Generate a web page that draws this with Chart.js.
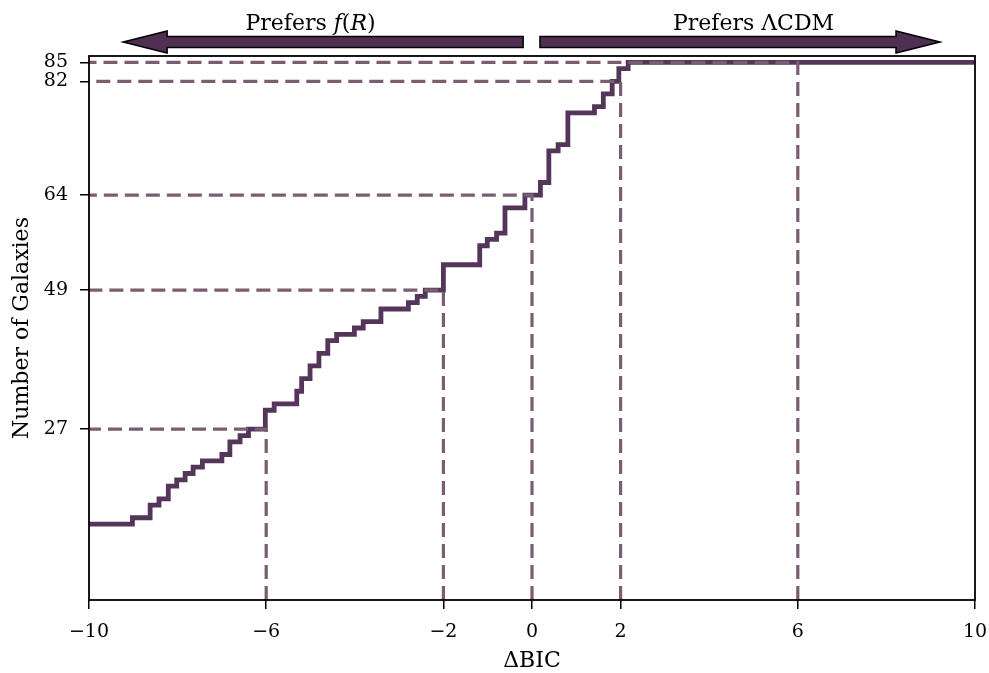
<!DOCTYPE html>
<html>
<head>
<meta charset="utf-8">
<script src="https://cdn.jsdelivr.net/npm/chart.js@4/dist/chart.umd.min.js"></script>
<style>
  html, body { margin: 0; padding: 0; background: #fff; }
  #wrap { width: 989px; height: 673px; }
</style>
</head>
<body>
<div id="wrap"><canvas id="c" width="989" height="673"></canvas></div>
<script>
// ---- data ----
const stepX = [-10, -9.02, -8.62, -8.42, -8.21, -8.02, -7.83, -7.65, -7.44, -7.00, -6.82, -6.59, -6.40,
  -6.02, -5.82, -5.31, -5.20, -5.01, -4.81, -4.61, -4.41, -4.01, -3.81, -3.41, -2.79, -2.59, -2.41,
  -2.00, -1.18, -1.01, -0.80, -0.61, -0.16, 0.19, 0.38, 0.59, 0.81, 1.41, 1.61, 1.81, 1.96, 2.17, 10];
const cumCount = [12, 13, 15, 16, 18, 19, 20, 21, 22, 23, 25, 26, 27,
  30, 31, 33, 35, 37, 39, 41, 42, 43, 44, 46, 47, 48, 49,
  53, 56, 57, 58, 62, 64, 66, 71, 72, 77, 78, 80, 82, 84, 85, 85];
const refX = [-6, -2, 0, 2, 6];
const refY = [27, 49, 64, 82, 85];
const xTicks = [-10, -6, -2, 0, 2, 6, 10];
const yTicks = [27, 49, 64, 82, 85];
const leftLabel = ['Prefers ', {i: 'f'}, '(', {i: 'R'}, ')'];
const rightLabel = ['Prefers ΛCDM'];
const leftArrow = [-0.2, -9.23];   // tail, tip
const rightArrow = [0.18, 9.21];
const labelCenters = [-5, 5];

const LINE = '#533659';
const DASH = '#7a5d70';
const ARROW = '#4f2f52';
const FONT = "'DejaVu Serif', serif";

const mainData = stepX.map((x, i) => ({x, y: cumCount[i]}));
const dashSets = refX.map((x, i) => ({
  data: [{x: x, y: 0}, {x: x, y: refY[i]}, {x: -10, y: refY[i]}],
  borderColor: DASH, borderWidth: 3.2, borderDash: [14, 7], pointRadius: 0,
  fill: false, tension: 0, order: 0
}));

function fmt(v) { return v < 0 ? '\u2212' + Math.abs(v) : String(v); }

const frame = {
  id: 'frame',
  afterDatasetsDraw(chart) {
    const {ctx, chartArea: a} = chart;
    ctx.save();
    ctx.strokeStyle = '#000';
    ctx.lineWidth = 1.8;
    ctx.strokeRect(a.left, a.top, a.right - a.left, a.bottom - a.top);
    ctx.restore();
  },
  afterDraw(chart) {
    const {ctx} = chart;
    const xs = chart.scales.x;
    const yc = chart.chartArea.top - 14;
    function arrow(tail, tip) {
      const x0 = xs.getPixelForValue(tail), x1 = xs.getPixelForValue(tip);
      const dir = Math.sign(x1 - x0);
      const hl = 44, hh = 11, sh = 5.5;
      const xb = x1 - dir * hl;
      ctx.beginPath();
      ctx.moveTo(x0, yc - sh);
      ctx.lineTo(xb, yc - sh);
      ctx.lineTo(xb, yc - hh);
      ctx.lineTo(x1, yc);
      ctx.lineTo(xb, yc + hh);
      ctx.lineTo(xb, yc + sh);
      ctx.lineTo(x0, yc + sh);
      ctx.closePath();
      ctx.fillStyle = ARROW;
      ctx.fill();
      ctx.lineWidth = 1.5;
      ctx.strokeStyle = '#000';
      ctx.stroke();
    }
    function label(parts, center) {
      const normal = "22px " + FONT, ital = "italic 22px " + FONT;
      let w = 0;
      parts.forEach(p => {
        ctx.font = typeof p === 'string' ? normal : ital;
        w += ctx.measureText(typeof p === 'string' ? p : p.i).width;
      });
      let x = xs.getPixelForValue(center) - w / 2;
      ctx.fillStyle = '#000';
      ctx.textBaseline = 'alphabetic';
      ctx.textAlign = 'left';
      parts.forEach(p => {
        const t = typeof p === 'string' ? p : p.i;
        ctx.font = typeof p === 'string' ? normal : ital;
        ctx.fillText(t, x, 30);
        x += ctx.measureText(t).width;
      });
    }
    ctx.save();
    arrow(leftArrow[0], leftArrow[1]);
    arrow(rightArrow[0], rightArrow[1]);
    label(leftLabel, labelCenters[0]);
    label(rightLabel, labelCenters[1]);
    ctx.restore();
  }
};

new Chart(document.getElementById('c'), {
  type: 'line',
  data: {
    datasets: [
      ...dashSets,
      {data: mainData, borderColor: LINE, borderWidth: 4.8, stepped: true, pointRadius: 0,
       fill: false, order: 1, borderCapStyle: 'butt', borderJoinStyle: 'miter'}
    ]
  },
  options: {
    responsive: false,
    animation: false,
    layout: {padding: {left: 0, top: 56, right: 14, bottom: 0}},
    plugins: {legend: {display: false}, tooltip: {enabled: false}},
    scales: {
      x: {
        type: 'linear', min: -10, max: 10,
        afterBuildTicks: s => { s.ticks = xTicks.map(v => ({value: v})); },
        afterFit: s => { s.height = 73; s.paddingLeft = 0; s.paddingRight = 0; },
        grid: {drawOnChartArea: false, drawTicks: true, tickLength: 9, color: '#000', lineWidth: 1.5},
        border: {display: false},
        ticks: {callback: v => fmt(v), color: '#000', padding: 12, maxRotation: 0,
                font: {family: FONT, size: 19}},
        title: {display: true, text: 'ΔBIC', color: '#000', padding: {top: 0, bottom: -1},
                font: {family: FONT, size: 22}}
      },
      y: {
        type: 'linear', min: 0, max: 86,
        afterBuildTicks: s => { s.ticks = yTicks.map(v => ({value: v})); },
        afterFit: s => { s.width = 89; s.paddingTop = 0; s.paddingBottom = 0; },
        grid: {drawOnChartArea: false, drawTicks: true, tickLength: 9, color: '#000', lineWidth: 1.5},
        border: {display: false},
        ticks: {color: '#000', padding: 12, font: {family: FONT, size: 19}, autoSkip: false},
        title: {display: true, text: 'Number of Galaxies', color: '#000', padding: {top: 9, bottom: 0},
                font: {family: FONT, size: 22}}
      }
    }
  },
  plugins: [frame]
});
</script>
</body>
</html>
